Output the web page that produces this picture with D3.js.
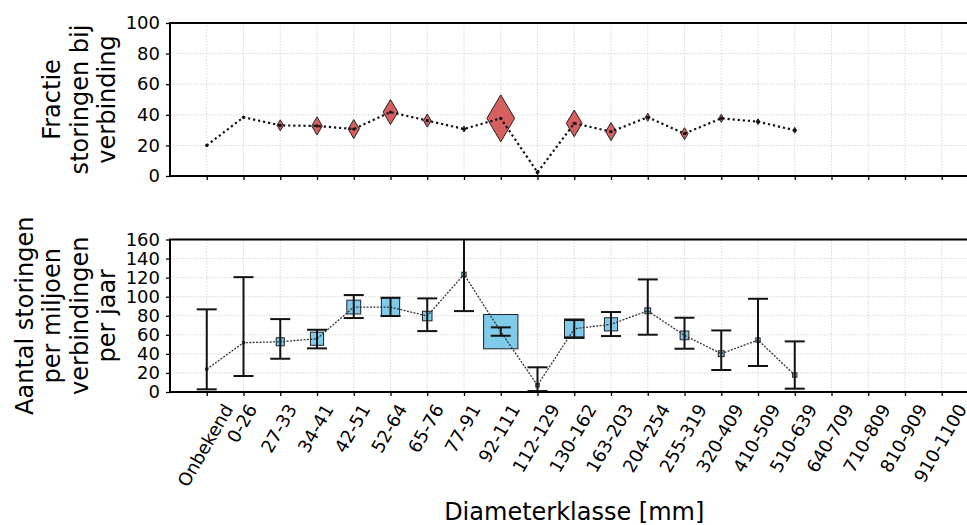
<!DOCTYPE html>
<html><head><meta charset="utf-8">
<script src="https://cdn.jsdelivr.net/npm/d3@7"></script>
<style>
body{margin:0;background:#fff}
svg{display:block}
text{font-family:"DejaVu Sans",sans-serif;fill:#000}
</style>
</head><body>
<svg id="c" width="967" height="525"></svg>
<script>
// ---- data ----
const categories = ["Onbekend","0-26","27-33","34-41","42-51","52-64","65-76","77-91","92-111","112-129","130-162","163-203","204-254","255-319","320-409","410-509","510-639","640-709","710-809","810-909","910-1100"];
const fractie    = [20, 38.4, 33.1, 32.7, 30.7, 41.8, 36.2, 30.7, 37.7, 2.4, 34.4, 29.0, 38.4, 27.7, 37.7, 35.5, 29.9];
const storingen  = [24, 51.7, 52.7, 55.9, 89.1, 89.1, 79.7, 123.4, 63.3, 7.0, 66.4, 71.0, 85.2, 59.4, 40.2, 54.5, 17.8];
const foutOnder  = [2.8, 16.8, 34.9, 45.8, 77.6, 79.7, 63.9, 84.9, 59.0, 1.0, 57.3, 58.7, 60.1, 45.4, 23.1, 27.3, 3.5];
const foutBoven  = [86.7, 120.5, 76.5, 65.3, 101.7, 98.9, 98.2, 175, 67.8, 25.9, 75.5, 83.9, 118.1, 77.9, 64.6, 97.8, 53.1];
const gewicht    = [0.4, 0.4, 5.5, 14.7, 16.3, 28.3, 7.7, 1.6, 100, 1.0, 32.3, 14.7, 2.9, 6.5, 2.9, 1.6, 1.6];
const fractieTicks   = [0, 20, 40, 60, 80, 100];
const storingenTicks = [0, 20, 40, 60, 80, 100, 120, 140, 160];
const labelTop = ["Fractie", "storingen bij", "verbinding"];
const labelBot = ["Aantal storingen", "per miljoen", "verbindingen", "per jaar"];
const labelX = "Diameterklasse [mm]";

// ---- layout ----
const svg = d3.select("#c");
const L = 170, R = 978.5;
const top1 = 23, bot1 = 176, top2 = 239.5, bot2 = 392;
const x = d3.scalePoint().domain(categories).range([L, R]).padding(1);
const yT = d3.scaleLinear().domain([0, 100]).range([bot1, top1]);
const yB = d3.scaleLinear().domain([0, 160]).range([bot2, top2]);
const hScale = d3.scaleSqrt().domain([0, 100]).range([0, 47]);

const defs = svg.append("defs");
defs.append("clipPath").attr("id","cp1").append("rect").attr("x",L).attr("y",top1).attr("width",R-L).attr("height",bot1-top1);
defs.append("clipPath").attr("id","cp2").append("rect").attr("x",L).attr("y",top2).attr("width",R-L).attr("height",bot2-top2);

function grid(y, ticks, t, b) {
  const g = svg.append("g").attr("stroke","#d4d4d4").attr("stroke-width",0.9).attr("stroke-dasharray","1.5,1.5");
  categories.forEach(c => g.append("line").attr("x1",x(c)).attr("x2",x(c)).attr("y1",t).attr("y2",b));
  ticks.forEach(v => g.append("line").attr("x1",L).attr("x2",R).attr("y1",y(v)).attr("y2",y(v)));
}
grid(yT, fractieTicks, top1, bot1);
grid(yB, storingenTicks, top2, bot2);

// ---- top panel ----
const cat1 = categories.slice(0, fractie.length);
const p1 = svg.append("g").attr("clip-path","url(#cp1)");
p1.selectAll("path.d").data(fractie).join("path")
  .attr("transform",(d,i)=>`translate(${x(cat1[i])},${yT(d)})`)
  .attr("d",(d,i)=>{const h=hScale(gewicht[i]), w=0.59*h; return `M0,${-h/2}L${w/2},0L0,${h/2}L${-w/2},0Z`;})
  .attr("fill","#d65f5f").attr("stroke","#222").attr("stroke-width",1);
p1.append("path").datum(fractie)
  .attr("d", d3.line().x((d,i)=>x(cat1[i])).y(d=>yT(d)))
  .attr("fill","none").attr("stroke","#111").attr("stroke-width",2.2).attr("stroke-dasharray","2.2,2.9");
p1.selectAll("circle").data(fractie).join("circle")
  .attr("cx",(d,i)=>x(cat1[i])).attr("cy",d=>yT(d)).attr("r",1.6).attr("fill","#111");

// ---- bottom panel ----
const p2 = svg.append("g").attr("clip-path","url(#cp2)");
p2.selectAll("rect.s").data(storingen).join("rect")
  .each(function(d,i){
    const s = 0.73*hScale(gewicht[i]);
    d3.select(this).attr("x",x(cat1[i])-s/2).attr("y",yB(d)-s/2).attr("width",s).attr("height",s);
  })
  .attr("fill","#80cbea").attr("stroke","#222").attr("stroke-width",1);
p2.append("path").datum(storingen)
  .attr("d", d3.line().x((d,i)=>x(cat1[i])).y(d=>yB(d)))
  .attr("fill","none").attr("stroke","#333").attr("stroke-width",1.3).attr("stroke-dasharray","2,1.4");
const eb = p2.append("g").attr("stroke","#111").attr("stroke-width",2);
storingen.forEach((d,i)=>{
  const cx = x(cat1[i]);
  eb.append("line").attr("x1",cx).attr("x2",cx).attr("y1",yB(foutOnder[i])).attr("y2",yB(foutBoven[i]));
  eb.append("line").attr("x1",cx-10).attr("x2",cx+10).attr("y1",yB(foutOnder[i])).attr("y2",yB(foutOnder[i]));
  eb.append("line").attr("x1",cx-10).attr("x2",cx+10).attr("y1",yB(foutBoven[i])).attr("y2",yB(foutBoven[i]));
});

// ---- axes ----
function yAxis(y, ticks) {
  const g = svg.append("g").attr("transform",`translate(${L},0)`)
    .call(d3.axisLeft(y).tickValues(ticks).tickSize(4).tickPadding(6));
  g.select(".domain").remove();
  g.selectAll(".tick line").attr("stroke","#000").attr("stroke-width",1.3);
  g.selectAll("text").attr("font-size",18).attr("font-family","DejaVu Sans");
}
yAxis(yT, fractieTicks);
yAxis(yB, storingenTicks);
function xAxis(yPos) {
  const g = svg.append("g").attr("transform",`translate(0,${yPos})`)
    .call(d3.axisBottom(x).tickSize(4).tickFormat(""));
  g.select(".domain").remove();
  g.selectAll(".tick line").attr("stroke","#000").attr("stroke-width",1.3);
}
xAxis(bot1);
xAxis(bot2);

// frames
[[top1,bot1],[top2,bot2]].forEach(([t,b])=>{
  svg.append("rect").attr("x",L).attr("y",t).attr("width",R-L).attr("height",b-t)
    .attr("fill","none").attr("stroke","#000").attr("stroke-width",2);
});

// x tick labels, rotated 60°, centred under the tick
categories.forEach(c=>{
  const g = svg.append("g");
  const t = g.append("text").text(c).attr("font-size",18).attr("text-anchor","middle").attr("dy","0.26em");
  const W = t.node().getComputedTextLength();
  const cy = 402 + (W*Math.sin(Math.PI/3) + 18*0.5)/2;
  g.attr("transform",`translate(${x(c)},${cy}) rotate(-60)`);
});

// axis titles
function yTitle(lines, cy) {
  const g = svg.append("g").attr("transform",`translate(115,${cy}) rotate(-90)`);
  lines.forEach((s,i)=>g.append("text").text(s).attr("font-size",24).attr("text-anchor","middle")
    .attr("y",(i-(lines.length-1))*27.4));
}
yTitle(labelTop, (top1+bot1)/2);
yTitle(labelBot, (top2+bot2)/2);
svg.append("text").text(labelX).attr("x",(L+R)/2).attr("y",520).attr("font-size",24).attr("text-anchor","middle");
</script>
</body></html>
